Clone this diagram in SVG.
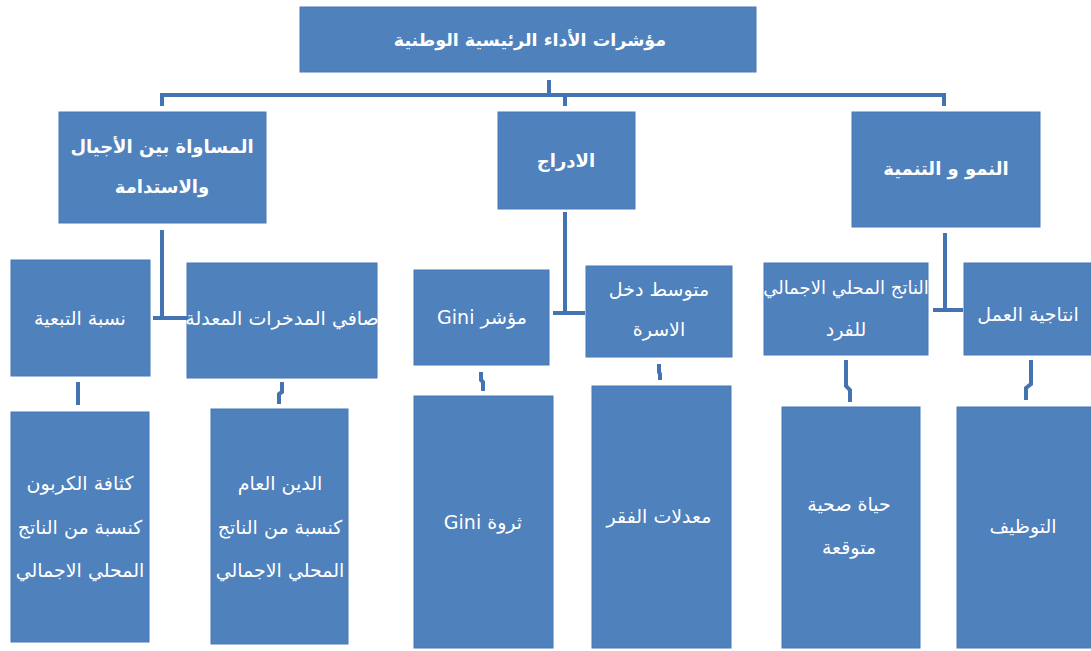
<svg xmlns="http://www.w3.org/2000/svg" width="1091" height="651" viewBox="0 0 1091 651">
  <style>
    .box { fill: #4f81bd; stroke: #4779b6; stroke-width: 1; }
    .lbl { fill: #ffffff; font-family: "DejaVu Sans", sans-serif; font-size: 19px; text-anchor: middle; dominant-baseline: central; direction: rtl; }
    .bold { font-weight: bold; font-size: 18px; }
    .title { font-size: 17.5px; }
    .wire { fill: none; stroke: #4373b0; stroke-width: 4; }
  </style>
  <rect width="1091" height="651" fill="#ffffff"/>

  <!-- connectors -->
  <g id="connectors">
    <path class="wire" d="M549 80 V95 M162 106 V95 H944 V106 M565 95 V106"/>
    <path class="wire" d="M162 230 V318 M153 318 H187"/>
    <path class="wire" d="M565 212 V313 M553 313 H585"/>
    <path class="wire" d="M945 233 V310 M933 310 H963"/>
    <path class="wire" d="M78 382 V405"/>
    <path class="wire" d="M282 382 V392 L279 394 V404"/>
    <path class="wire" d="M481 372 V380 L483 382 V391"/>
    <path class="wire" d="M659 364 V372 L660 374 V380"/>
    <path class="wire" d="M846 360 V386 L850 390 V402"/>
    <path class="wire" d="M1031 360 V384 L1026 388 V400"/>
  </g>

  <g id="root">
    <rect class="box" x="300" y="7" width="456" height="65"/>
    <text class="lbl bold title" x="530" y="40">مؤشرات الأداء الرئيسية الوطنية</text>
  </g>

  <g id="equity">
    <rect class="box" x="59" y="112" width="207" height="111"/>
    <text class="lbl bold" x="162" y="146">المساواة بين الأجيال</text>
    <text class="lbl bold" x="162" y="186">والاستدامة</text>
  </g>
  <g id="inclusion">
    <rect class="box" x="498" y="112" width="137" height="97"/>
    <text class="lbl bold" x="566" y="160">الادراج</text>
  </g>
  <g id="growth">
    <rect class="box" x="852" y="112" width="188" height="115"/>
    <text class="lbl bold" x="946" y="168">النمو و التنمية</text>
  </g>

  <g id="dependency">
    <rect class="box" x="11" y="260" width="139" height="116"/>
    <text class="lbl" x="80" y="318">نسبة التبعية</text>
  </g>
  <g id="savings">
    <rect class="box" x="187" y="263" width="190" height="115"/>
    <text class="lbl" x="282" y="318">صافي المدخرات المعدلة</text>
  </g>
  <g id="gini-index">
    <rect class="box" x="414" y="270" width="135" height="95"/>
    <text class="lbl" x="482" y="317">مؤشر Gini</text>
  </g>
  <g id="household-income">
    <rect class="box" x="586" y="266" width="146" height="91"/>
    <text class="lbl" x="659" y="289">متوسط دخل</text>
    <text class="lbl" x="659" y="329">الاسرة</text>
  </g>
  <g id="gdp-per-capita">
    <rect class="box" x="764" y="263" width="164" height="92"/>
    <text class="lbl" x="846" y="287" style="font-size:18px">الناتج المحلي الاجمالي</text>
    <text class="lbl" x="846" y="329">للفرد</text>
  </g>
  <g id="labour-productivity">
    <rect class="box" x="964" y="263" width="130" height="92"/>
    <text class="lbl" x="1028" y="314">انتاجية العمل</text>
  </g>

  <g id="carbon">
    <rect class="box" x="11" y="412" width="138" height="230"/>
    <text class="lbl" x="80" y="483">كثافة الكربون</text>
    <text class="lbl" x="80" y="527">كنسبة من الناتج</text>
    <text class="lbl" x="80" y="570">المحلي الاجمالي</text>
  </g>
  <g id="public-debt">
    <rect class="box" x="211" y="409" width="137" height="235"/>
    <text class="lbl" x="280" y="483">الدين العام</text>
    <text class="lbl" x="280" y="527">كنسبة من الناتج</text>
    <text class="lbl" x="280" y="570">المحلي الاجمالي</text>
  </g>
  <g id="gini-wealth">
    <rect class="box" x="414" y="396" width="139" height="252"/>
    <text class="lbl" x="483" y="522">ثروة Gini</text>
  </g>
  <g id="poverty">
    <rect class="box" x="592" y="386" width="139" height="262"/>
    <text class="lbl" x="659" y="516">معدلات الفقر</text>
  </g>
  <g id="life-expectancy">
    <rect class="box" x="782" y="407" width="138" height="241"/>
    <text class="lbl" x="849" y="504">حياة صحية</text>
    <text class="lbl" x="849" y="547">متوقعة</text>
  </g>
  <g id="employment">
    <rect class="box" x="957" y="407" width="137" height="241"/>
    <text class="lbl" x="1023" y="526">التوظيف</text>
  </g>
</svg>
